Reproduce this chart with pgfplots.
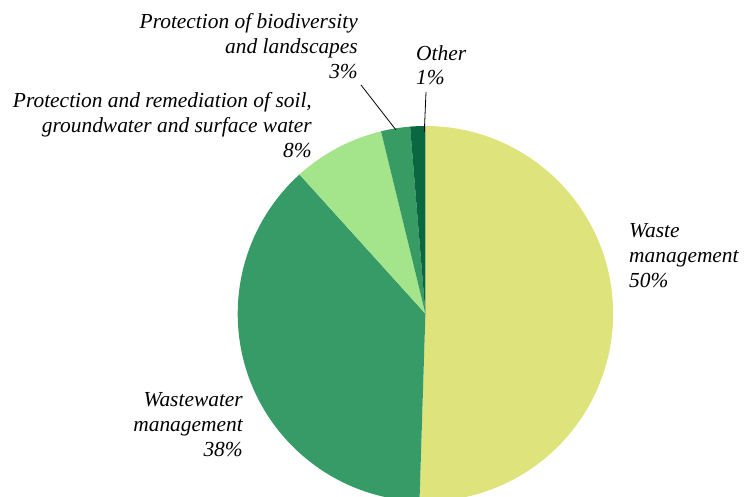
\documentclass[border=0pt]{standalone}
\usepackage{pgfplots}
\usepackage{pgfplotstable}
\pgfplotsset{compat=1.18}
\usepackage{fontspec}
\setmainfont{Liberation Serif}

\definecolor{slice0}{RGB}{223,227,124}
\definecolor{slice1}{RGB}{54,155,103}
\definecolor{slice2}{RGB}{164,228,138}
\definecolor{slice3}{RGB}{56,155,100}
\definecolor{slice4}{RGB}{9,104,64}

\tikzset{lbl/.style={font=\fontsize{21.5}{25}\selectfont\itshape, inner sep=0pt, text=black}}

% shares in percent, clockwise from 12 o'clock
\pgfplotstableread{
label value
waste 50.5
wastewater 37.8
soil 7.9
bio 2.5
other 1.3
}\piedata

\begin{document}
\begin{tikzpicture}
\begin{axis}[
    x=1bp, y=1bp,
    xmin=0, xmax=744,
    ymin=0, ymax=497,
    hide axis,
    clip=true,
]
\addplot[draw=none] coordinates {(0,0) (744,497)};

\pgfmathsetmacro\startang{90}
\pgfplotsforeachungrouped \i in {0,...,4}{
  \pgfplotstablegetelem{\i}{value}\of\piedata
  \pgfmathsetmacro\endang{\startang-3.6*\pgfplotsretval}
  \edef\doslice{\noexpand\fill[slice\i] (axis cs:425.4,183.3) -- ++(\startang:187.7bp)
    arc[start angle=\startang, end angle=\endang, radius=187.7bp] -- cycle;}
  \doslice
  \global\let\startang\endang
}

% leader lines
\draw[black, line width=0.8pt] (axis cs:361,412) -- (axis cs:396,367);
\draw[black, line width=0.8pt] (axis cs:426,405) -- (axis cs:424.3,365);

\node[lbl, anchor=north east, align=right] at (axis cs:358,484) {Protection of biodiversity\\and landscapes\\3\%};
\node[lbl, anchor=north west, align=left] at (axis cs:416,452) {Other\\1\%};
\node[lbl, anchor=north east, align=right] at (axis cs:312,405) {Protection and remediation of soil,\\groundwater and surface water\\8\%};
\node[lbl, anchor=north west, align=left] at (axis cs:629,274) {Waste\\management\\50\%};
\node[lbl, anchor=north east, align=right] at (axis cs:243,105) {Wastewater\\management\\38\%};
\end{axis}
\end{tikzpicture}
\end{document}
